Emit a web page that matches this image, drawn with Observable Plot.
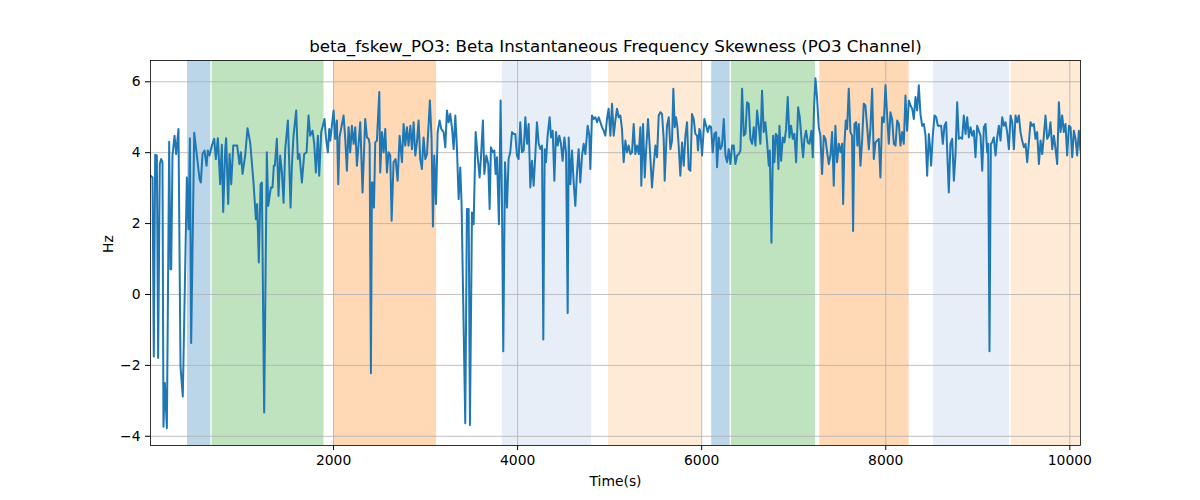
<!DOCTYPE html>
<html>
<head>
<meta charset="utf-8">
<script src="https://cdn.jsdelivr.net/npm/d3@7"></script>
<script src="https://cdn.jsdelivr.net/npm/@observablehq/plot@0.6"></script>
<style>
  html, body { margin: 0; padding: 0; background: #fff; }
  #chart svg { display: block; }
</style>
</head>
<body>
<div id="chart"></div>
<script>
const titleText = "beta_fskew_PO3: Beta Instantaneous Frequency Skewness (PO3 Channel)";
const xLabel = "Time(s)";
const yLabel = "Hz";
const xTicks = [2000, 4000, 6000, 8000, 10000];
const yTicks = [-4, -2, 0, 2, 4, 6];

const bandStart = [413, 681, 2000, 3834, 4986, 6109, 6323, 7283, 8518, 9363];
const bandEnd   = [667, 1896, 3120, 4804, 6000, 6309, 7236, 8254, 9345, 10116];
const bandColor = ["#1f77b4", "#2ca02c", "#ff7f0e", "#aec7e8", "#ffbb78",
                   "#1f77b4", "#2ca02c", "#ff7f0e", "#aec7e8", "#ffbb78"];

const time = [
  11,33,47,62,80,94,112,127,141,152,
  167,189,214,228,236,250,272,290,315,337,
  362,406,424,439,453,486,507,544,558,576,
  598,620,634,652,678,703,721,743,768,786,
  801,823,833,855,870,888,910,953,978,993,
  1011,1040,1065,1094,1130,1156,1170,1188,1207,1221,
  1246,1275,1290,1319,1337,1351,1362,1384,1402,1420,
  1439,1457,1475,1504,1533,1547,1565,1594,1612,1630,
  1656,1681,1707,1728,1746,1772,1790,1808,1830,1844,
  1866,1902,1917,1938,1953,
  1964,2000,2018,2036,2051,2065,2109,2127,2145,2163,
  2181,2199,2218,2236,2254,2290,2315,2344,2363,2381,
  2392,2406,2417,2428,2439,2453,2471,2497,2507,2526,
  2544,2562,2580,2598,2616,2631,2652,2674,2696,2718,
  2743,2761,2779,2797,2815,2834,2852,2870,2888,2906,
  2924,2942,2960,2978,2997,3015,3047,3065,3080,3094,
  3113,3131,3152,3170,3196,3214,3232,3250,3268,3286,
  3305,3323,3341,3359,3377,3391,3431,3449,3468,
  3482,3504,3522,3544,3565,3587,3602,3623,3638,3660,
  3681,3696,3710,3732,3747,3761,3776,3797,3815,3830,
  3844,3863,3884,3902,3920,3939,3957,
  3975,3993,4011,4029,4047,4066,4084,4102,4120,4138,
  4156,4174,4192,4210,4229,4247,4265,4279,4294,4308,
  4326,4348,4363,4381,4399,4417,4435,4453,4471,4489,
  4508,4526,4544,4555,4573,4591,4609,4627,4645,4663,
  4681,4700,4718,4736,4761,4779,4790,4808,4826,4845,
  4863,4881,4899,4917,4935,4953,4971,4989,5008,5026,
  5044,5062,5080,5098,5116,5134,5152,5171,5189,5207,
  5225,5243,5261,5279,5297,5316,5334,5344,5363,5381,
  5395,5417,5442,5460,5478,5497,5515,5533,5551,5569,
  5587,5598,5623,5642,5660,5678,5692,5707,5721,5736,
  5750,5768,5787,5805,5823,5841,5859,5877,5895,5913,
  5931,5950,5960,5975,
  5986,6004,6029,6048,6066,6084,6102,6120,6138,6156,
  6167,6185,6203,6221,6240,6258,6276,6294,6312,6330,
  6348,6366,6385,6403,6421,6439,6457,6475,6493,6511,
  6529,6548,6566,6584,6602,6620,6638,6656,6674,6692,
  6711,6729,6740,6758,6776,6790,6805,6819,6834,6845,
  6863,6881,6899,6917,6935,6953,6971,6990,7008,7026,
  7048,7066,7084,7102,7116,7134,7153,7171,7192,7207,
  7221,7236,7254,7272,7290,7308,7327,7345,7363,7381,
  7399,7417,7435,7453,7471,7490,7508,7526,7537,7551,
  7566,7580,7598,7616,7634,7645,7660,7678,7692,7707,
  7725,7743,7761,7779,7798,7816,7834,7852,7870,7888,
  7906,7924,7942,7960,7979,
  7997,8015,8033,8051,8069,8088,8106,8124,8142,8160,
  8178,8196,8214,8232,8251,8269,8287,8305,8323,8341,
  8359,8377,8396,8414,8432,8450,8468,8479,8493,8511,
  8530,8548,8566,8584,8602,8620,8638,8656,8671,8685,
  8703,8722,8740,8758,8776,8794,8812,8830,8848,8867,
  8885,8903,8921,8939,8957,8975,8993,9011,9030,9048,
  9066,9084,9102,9113,9127,9142,9156,9174,9193,9211,
  9229,9247,9265,9283,9301,9319,9338,9356,9374,9392,
  9410,9428,9446,9464,9482,9501,9519,9537,9555,9573,
  9591,9609,9627,9645,9664,9682,9700,9718,9736,9754,
  9772,9790,9809,9827,9845,9863,9881,9899,9917,9935,
  9953,9971,9990,10008,10026,10044,10062,10080,10098,10116
];

const hz = [
  3.35,3.30,-1.75,3.94,3.92,-1.79,3.68,3.82,3.73,-3.73,
  -2.50,-3.77,4.31,0.71,0.71,3.92,4.48,3.96,4.67,-2.03,
  -2.88,3.30,1.84,4.41,-1.37,4.56,4.10,3.25,3.16,3.96,
  4.06,3.63,4.06,3.92,4.20,4.39,3.82,4.41,3.11,4.22,
  2.33,4.10,4.41,2.55,3.96,3.11,4.20,4.20,3.68,4.01,
  3.40,3.92,4.69,4.29,3.16,2.12,2.55,0.90,3.11,3.16,
  -3.33,4.01,2.50,3.02,3.02,3.63,3.63,4.39,2.78,3.92,
  3.44,2.59,4.10,4.91,2.45,3.63,4.48,5.19,3.82,3.96,
  3.16,3.96,4.01,5.05,4.48,4.62,4.25,3.44,4.48,3.35,
  4.58,4.95,4.43,4.01,4.67,
  4.34,5.19,4.39,4.91,3.11,4.43,5.05,4.39,3.49,4.72,
  4.01,4.76,4.25,4.72,3.63,4.86,2.88,4.95,4.43,4.39,
  4.25,-2.22,3.16,3.16,2.45,4.29,4.34,5.71,3.44,4.58,
  4.01,4.67,3.44,4.01,3.92,2.08,3.73,3.82,3.21,4.48,
  3.73,4.81,4.20,4.72,4.20,4.76,4.10,4.86,3.92,4.29,
  4.91,3.82,3.54,4.43,3.82,3.96,5.47,4.39,1.92,3.92,
  2.55,4.58,4.91,4.67,4.58,4.15,5.19,4.86,5.09,4.72,
  4.10,5.05,4.10,2.69,3.58,2.55,-3.63,2.41,2.41,
  -3.68,2.31,1.98,4.58,3.92,3.30,3.87,4.91,3.40,3.92,
  3.68,2.41,4.15,4.01,4.06,3.40,3.87,1.98,5.47,2.59,
  -1.60,3.73,2.45,3.82,4.01,4.58,4.53,
  4.53,3.92,3.82,4.86,4.01,4.06,5.00,4.25,4.81,3.02,
  3.77,3.07,3.92,4.86,4.25,4.10,4.20,-1.27,4.10,3.73,
  4.48,5.00,4.43,4.62,3.21,4.58,4.20,4.48,4.25,3.77,
  4.43,4.01,-0.52,4.43,3.11,4.06,3.16,2.50,3.44,4.10,
  3.16,3.92,4.25,3.96,4.76,4.48,3.54,5.05,4.95,5.00,
  4.86,5.00,4.86,4.72,4.62,4.48,4.95,5.24,4.48,5.38,
  4.48,4.91,5.24,5.00,5.05,4.67,3.73,4.34,4.01,4.20,
  3.96,4.01,4.81,3.96,4.20,3.96,4.72,3.07,4.81,3.30,
  4.01,4.95,3.87,3.02,3.63,4.20,3.87,5.05,5.14,5.09,
  4.39,3.21,4.76,5.00,4.10,4.34,5.80,4.72,5.00,4.72,
  4.20,3.35,4.29,3.63,4.48,4.86,3.54,3.49,5.09,4.95,
  4.53,4.48,4.06,4.67,
  4.58,3.92,4.95,4.76,4.58,4.76,4.72,4.01,4.53,4.58,
  3.59,4.43,4.10,4.20,4.95,3.92,3.73,4.10,3.68,4.20,
  4.20,3.68,3.92,3.96,4.06,5.80,4.48,4.53,5.42,5.38,
  4.39,4.25,4.72,4.20,5.19,4.76,4.25,5.75,4.58,4.86,
  4.29,3.63,4.06,1.46,4.48,3.73,4.53,4.48,3.54,4.76,
  3.77,4.43,4.29,4.67,5.57,4.43,4.76,4.39,4.53,3.73,
  5.28,5.00,4.39,3.87,4.39,4.62,4.29,4.25,4.62,3.87,
  5.28,6.10,5.52,4.72,4.48,3.40,4.48,4.39,4.01,3.68,
  3.92,4.58,3.07,4.76,3.73,4.25,4.01,4.25,2.55,4.25,
  4.91,4.67,5.80,4.58,4.48,1.79,4.81,4.86,4.20,4.81,
  3.63,4.34,5.38,5.33,4.72,4.10,4.72,5.80,3.82,4.29,
  4.34,4.39,3.30,5.00,4.86,
  5.90,5.05,4.25,5.14,4.95,4.25,4.20,4.91,4.81,4.20,
  4.58,4.25,5.61,4.62,5.47,5.33,5.24,4.95,5.57,5.19,
  5.90,5.09,4.76,4.81,4.48,3.35,4.53,4.22,3.63,4.48,
  5.05,5.00,4.76,4.76,4.76,4.25,4.76,4.86,3.82,2.88,
  4.25,4.39,3.21,3.96,5.42,4.39,4.43,4.39,5.05,4.53,
  5.00,4.43,4.72,4.48,4.62,3.87,4.76,4.62,4.48,3.49,
  4.72,4.81,4.01,4.25,-1.60,4.25,4.29,4.43,3.92,4.43,
  4.76,4.34,5.00,4.76,4.86,4.58,4.10,5.05,4.86,4.10,
  5.05,4.86,5.05,4.58,4.34,4.15,4.25,3.73,4.29,4.86,
  4.76,4.81,4.39,4.58,3.68,4.34,3.96,4.48,5.05,4.39,
  4.48,4.86,4.10,4.48,4.10,3.68,5.42,4.58,5.05,4.58,
  4.81,3.92,4.76,4.72,3.87,4.62,4.39,3.92,4.62,4.06
];

const n = Math.min(time.length, hz.length);
const series = d3.range(n).map(i => ({t: time[i], v: hz[i]}));
const bands = bandStart.map((s, i) => ({s, e: bandEnd[i], c: bandColor[i]}));

const minus = d => d < 0 ? "\u2212" + Math.abs(d) : String(d);

const chart = Plot.plot({
  width: 1200,
  height: 500,
  marginLeft: 150,
  marginRight: 120,
  marginTop: 60,
  marginBottom: 55,
  style: {fontFamily: "'DejaVu Sans', sans-serif", fontSize: "13.9px", color: "black", background: "white"},
  x: {domain: [11, 10116]},
  y: {domain: [-4.26, 6.60]},
  marks: [
    Plot.rect(bands, {x1: "s", x2: "e", fill: "c", fillOpacity: 0.3}),
    Plot.gridX(xTicks, {stroke: "#b0b0b0", strokeOpacity: 1, strokeWidth: 0.8}),
    Plot.gridY(yTicks, {stroke: "#b0b0b0", strokeOpacity: 1, strokeWidth: 0.8}),
    Plot.line(series, {x: "t", y: "v", stroke: "#1f77b4", strokeWidth: 2, clip: true}),
    Plot.frame({stroke: "black", strokeWidth: 0.8}),
    Plot.axisX(xTicks, {tickFormat: d => String(d), tickSize: 5, tickPadding: 5, label: null, fontSize: 13.9}),
    Plot.axisY(yTicks, {tickFormat: minus, tickSize: 5, tickPadding: 5, label: null, fontSize: 13.9}),
    Plot.text([titleText], {frameAnchor: "top", dy: -14, lineAnchor: "middle", fontSize: 16.67}),
    Plot.text([xLabel], {frameAnchor: "bottom", dy: 36, lineAnchor: "middle", fontSize: 13.9}),
    Plot.text([yLabel], {frameAnchor: "left", dx: -42, rotate: -90, lineAnchor: "middle", fontSize: 13.9})
  ]
});
document.getElementById("chart").appendChild(chart);
</script>
</body>
</html>
